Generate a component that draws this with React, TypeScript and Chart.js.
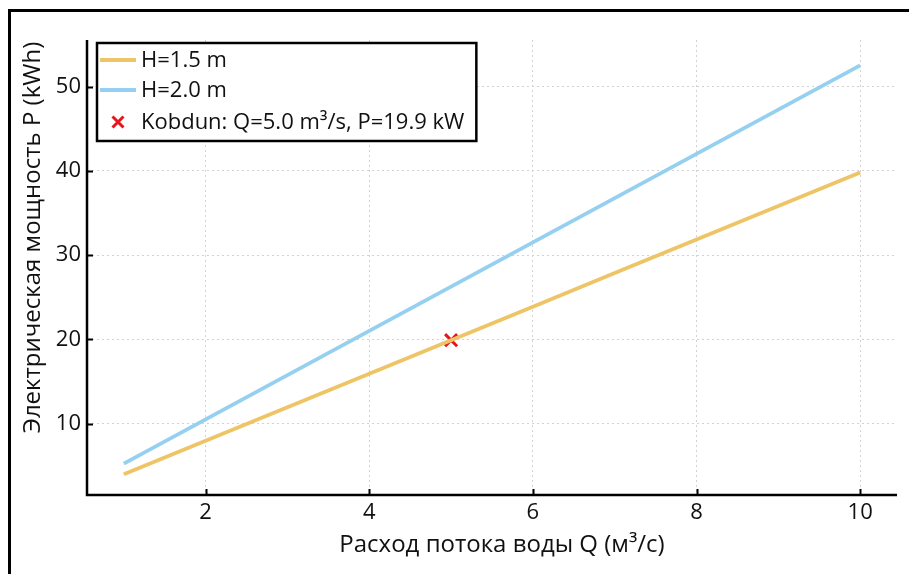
import React, { useEffect, useRef } from "react";
import { Chart, registerables } from "chart.js";

Chart.register(...registerables);

// ---- data ----
const flowQ = [1, 2, 3, 4, 5, 6, 7, 8, 9, 10];
const powerH15 = [3.98, 7.96, 11.94, 15.92, 19.9, 23.88, 27.86, 31.84, 35.82, 39.8];
const powerH20 = [5.25, 10.5, 15.75, 21.0, 26.25, 31.5, 36.75, 42.0, 47.25, 52.5];
const kobdunQ = [5.0];
const kobdunP = [19.9];
const xTickValues = [2, 4, 6, 8, 10];
const yTickValues = [10, 20, 30, 40, 50];
const xAxisRange = [0.55, 10.45];
const yAxisRange = [1.53, 55.52];
const seriesLabels = ["H=1.5 m", "H=2.0 m", "Kobdun: Q=5.0 m³/s, P=19.9 kW"];
const xTitle = "Расход потока воды Q (м³/с)";
const yTitle = "Электрическая мощность P (kWh)";

const COLOR_A = "rgb(238,197,102)";
const COLOR_B = "rgb(150,208,240)";
const COLOR_MARK = "#e8141c";
const FONT = '"Open Sans", "Noto Sans", sans-serif';

const decorPlugin = {
  id: "decor",
  afterDraw(chart: any) {
    const { ctx, chartArea: a, scales } = chart;
    const xs = scales.x;
    const ys = scales.y;
    ctx.save();
    // axis spines
    ctx.strokeStyle = "#000";
    ctx.lineWidth = 2.5;
    ctx.lineCap = "butt";
    ctx.beginPath();
    ctx.moveTo(a.left, a.top);
    ctx.lineTo(a.left, a.bottom);
    ctx.lineTo(a.right, a.bottom);
    ctx.stroke();
    // inner ticks
    ctx.lineWidth = 2;
    ctx.beginPath();
    xs.ticks.forEach((t: any) => {
      const px = Math.round(xs.getPixelForValue(t.value)) + 0.5;
      ctx.moveTo(px, a.bottom);
      ctx.lineTo(px, a.bottom - 6);
    });
    ys.ticks.forEach((t: any) => {
      const py = Math.round(ys.getPixelForValue(t.value)) + 0.5;
      ctx.moveTo(a.left, py);
      ctx.lineTo(a.left + 6, py);
    });
    ctx.stroke();

    // axis titles
    ctx.fillStyle = "#111";
    ctx.font = `24px ${FONT}`;
    ctx.textAlign = "center";
    ctx.textBaseline = "middle";
    ctx.fillText(xTitle, (a.left + a.right) / 2 + 10, 545);
    ctx.save();
    ctx.translate(33, (a.top + a.bottom) / 2 - 30);
    ctx.rotate(-Math.PI / 2);
    ctx.fillText(yTitle, 0, 0);
    ctx.restore();

    // legend
    ctx.font = `22px ${FONT}`;
    const textW = Math.max(...seriesLabels.map((s) => ctx.measureText(s).width));
    const bx = a.left + 10;
    const by = a.top + 3;
    const bw = 44 + textW + 12;
    const bh = 98;
    ctx.fillStyle = "#fff";
    ctx.fillRect(bx, by, bw, bh);
    ctx.strokeStyle = "#000";
    ctx.lineWidth = 2.5;
    ctx.strokeRect(bx, by, bw, bh);
    const rows = [by + 17, by + 47, by + 79];
    const colors = [COLOR_A, COLOR_B];
    for (let i = 0; i < 2; i++) {
      ctx.strokeStyle = colors[i];
      ctx.lineWidth = 3.8;
      ctx.beginPath();
      ctx.moveTo(bx + 3, rows[i]);
      ctx.lineTo(bx + 39, rows[i]);
      ctx.stroke();
    }
    // cross marker
    ctx.strokeStyle = COLOR_MARK;
    ctx.lineWidth = 3;
    const cx = bx + 21;
    const cy = rows[2];
    const r = 5.5;
    ctx.beginPath();
    ctx.moveTo(cx - r, cy - r);
    ctx.lineTo(cx + r, cy + r);
    ctx.moveTo(cx + r, cy - r);
    ctx.lineTo(cx - r, cy + r);
    ctx.stroke();
    ctx.fillStyle = "#111";
    ctx.textAlign = "left";
    seriesLabels.forEach((s, i) => ctx.fillText(s, bx + 44, rows[i] + 1));
    ctx.restore();
  },
};

export default function App() {
  const ref = useRef<HTMLCanvasElement | null>(null);
  useEffect(() => {
    let chart: Chart | null = null;
    let cancelled = false;
    const make = () => {
      if (cancelled || !ref.current) return;
      chart = new Chart(ref.current, {
        type: "line",
        data: {
          datasets: [
            {
              label: seriesLabels[0],
              data: flowQ.map((q, i) => ({ x: q, y: powerH15[i] })),
              borderColor: COLOR_A,
              borderWidth: 3.8,
              pointRadius: 0,
              tension: 0,
            },
            {
              label: seriesLabels[1],
              data: flowQ.map((q, i) => ({ x: q, y: powerH20[i] })),
              borderColor: COLOR_B,
              borderWidth: 3.8,
              pointRadius: 0,
              tension: 0,
            },
            {
              label: seriesLabels[2],
              data: kobdunQ.map((q, i) => ({ x: q, y: kobdunP[i] })),
              showLine: false,
              pointStyle: "crossRot",
              pointRadius: 8.5,
              pointBorderWidth: 3,
              pointBorderColor: COLOR_MARK,
              pointBackgroundColor: COLOR_MARK,
              borderColor: COLOR_MARK,
            },
          ],
        },
        options: {
          animation: false,
          responsive: false,
          maintainAspectRatio: false,
          layout: { padding: { left: 0, top: 40, right: 12, bottom: 0 } },
          plugins: { legend: { display: false }, tooltip: { enabled: false } },
          scales: {
            x: {
              type: "linear",
              min: xAxisRange[0],
              max: xAxisRange[1],
              afterBuildTicks: (s: any) => {
                s.ticks = xTickValues.map((v) => ({ value: v }));
              },
              afterFit: (s: any) => {
                s.height = 79;
              },
              grid: { color: "#d2d2d2", lineWidth: 1, drawTicks: false },
              border: { display: false, dash: [2, 3] },
              ticks: {
                padding: 5,
                color: "#111",
                font: { family: FONT, size: 22 },
                maxRotation: 0,
              },
            },
            y: {
              type: "linear",
              min: yAxisRange[0],
              max: yAxisRange[1],
              afterBuildTicks: (s: any) => {
                s.ticks = yTickValues.map((v) => ({ value: v }));
              },
              afterFit: (s: any) => {
                s.width = 87;
              },
              grid: { color: "#d2d2d2", lineWidth: 1, drawTicks: false },
              border: { display: false, dash: [2, 3] },
              ticks: {
                padding: 6,
                color: "#111",
                font: { family: FONT, size: 22 },
              },
            },
          },
        },
        plugins: [decorPlugin],
      } as any);
    };
    const fontsApi: any = (document as any).fonts;
    if (fontsApi && fontsApi.load) {
      Promise.all([
        fontsApi.load(`22px "Open Sans"`),
        fontsApi.load(`24px "Open Sans"`),
      ])
        .catch(() => null)
        .then(make);
    } else {
      make();
    }
    return () => {
      cancelled = true;
      if (chart) chart.destroy();
    };
  }, []);

  return (
    <div style={{ position: "fixed", left: 0, top: 0, width: 909, height: 574, background: "#fff" }}>
      <div
        style={{
          position: "absolute",
          left: 8,
          top: 9,
          width: 909,
          height: 574,
          borderLeft: "3px solid #000",
          borderTop: "3px solid #000",
          boxSizing: "border-box",
        }}
      />
      <canvas
        ref={ref}
        width={909}
        height={574}
        style={{ position: "absolute", left: 0, top: 0, width: 909, height: 574 }}
      />
    </div>
  );
}
